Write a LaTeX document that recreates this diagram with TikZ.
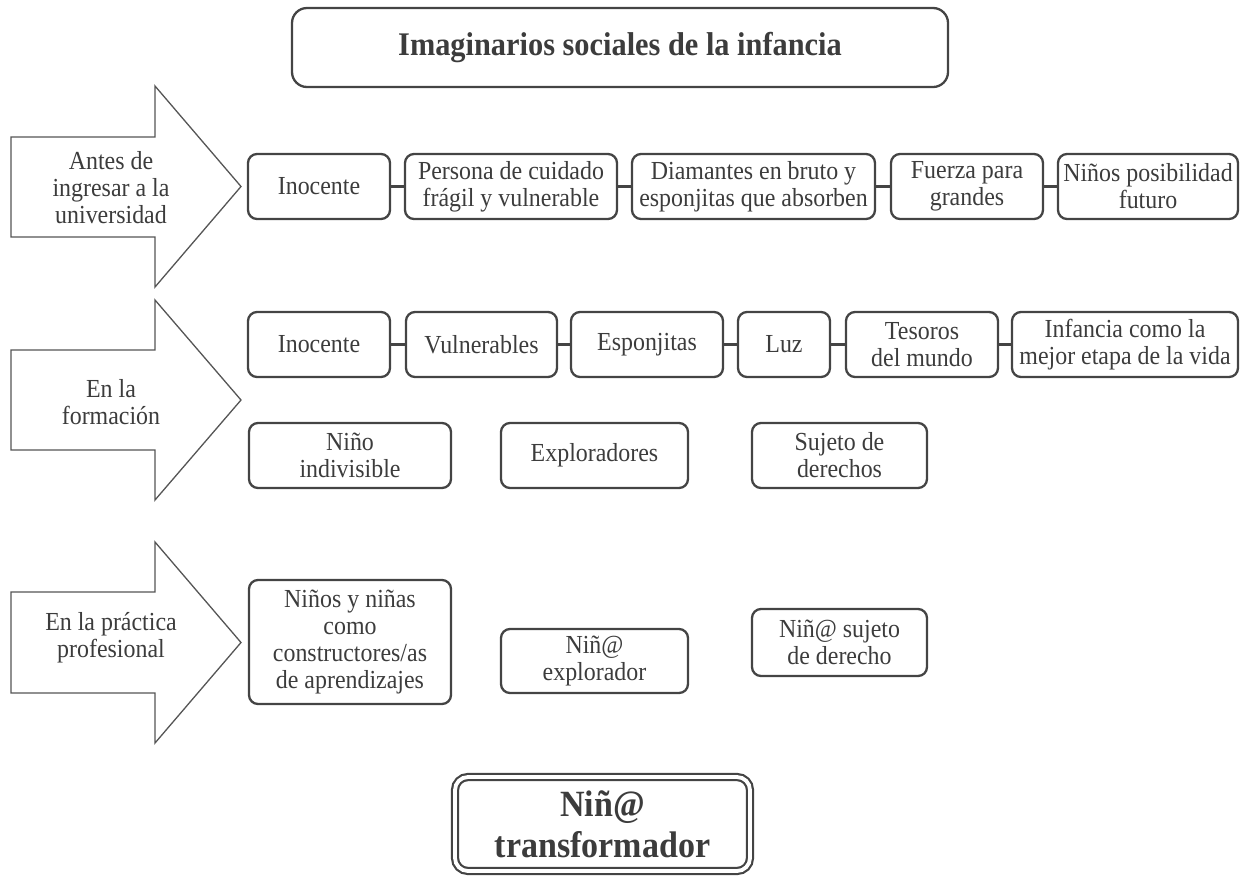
\documentclass[tikz,border=0pt]{standalone}
\usepackage{fontspec}
\setmainfont{Liberation Serif}[FakeStretch=0.92]
\definecolor{boxgray}{RGB}{68,68,68}
\definecolor{txtgray}{RGB}{60,60,60}
\definecolor{arrgray}{RGB}{85,85,85}
\begin{document}
\begin{tikzpicture}[x=1pt,y=-1pt,
  bx/.style={draw=boxgray,line width=2.3pt,rounded corners=9pt,align=center,inner sep=0pt,
    text=txtgray,font=\fontsize{26}{27}\selectfont},
  conn/.style={draw=boxgray,line width=2.6pt},
  arrshape/.style={draw=arrgray,line width=1.3pt,fill=white},
  arrtxt/.style={align=center,inner sep=0pt,text=txtgray,font=\fontsize{26}{27}\selectfont}]
\useasboundingbox (0,0) rectangle (1246,879);
% title
\node[bx,rounded corners=15pt,minimum width=656pt,minimum height=79pt,font=\fontsize{33}{38}\selectfont\bfseries] (title) at (620,47.5) {Imaginarios sociales de la infancia};
% arrows
\draw[arrshape] (11,137) -- (155,137) -- (155,86) -- (241,186.5) -- (155,287) -- (155,237) -- (11,237) -- cycle;
\node[arrtxt] (a1) at (111,188) {Antes de\\ingresar a la\\universidad};
\draw[arrshape] (11,350) -- (155,350) -- (155,300) -- (241,400) -- (155,500) -- (155,450) -- (11,450) -- cycle;
\node[arrtxt] (a2) at (111,402) {En la\\formación};
\draw[arrshape] (11,592) -- (155,592) -- (155,542) -- (241,642.5) -- (155,743) -- (155,693) -- (11,693) -- cycle;
\node[arrtxt] (a3) at (111,638) {En la práctica\\profesional};
% row 1
\node[bx,minimum width=142pt,minimum height=65pt] (r1a) at (319,186.5) {Inocente};
\node[bx,minimum width=212pt,minimum height=65pt] (r1b) at (511,186.5) {Persona de cuidado\\frágil y vulnerable};
\node[bx,minimum width=243pt,minimum height=65pt] (r1c) at (753.5,186.5) {Diamantes en bruto y\\esponjitas que absorben};
\node[bx,minimum width=152pt,minimum height=65pt] (r1d) at (967,186.5) {Fuerza para\\grandes};
\node[bx,minimum width=180pt,minimum height=65pt] (r1e) at (1148,186.5) {Niños posibilidad\\futuro};
\draw[conn] (r1a.east) -- (r1b.west);
\draw[conn] (r1b.east) -- (r1c.west);
\draw[conn] (r1c.east) -- (r1d.west);
\draw[conn] (r1d.east) -- (r1e.west);
% row 2
\node[bx,minimum width=142pt,minimum height=65pt] (r2a) at (319,344.5) {Inocente};
\node[bx,minimum width=151pt,minimum height=65pt] (r2b) at (481.5,344.5) {Vulnerables};
\node[bx,minimum width=152pt,minimum height=65pt] (r2c) at (647,344.5) {Esponjitas};
\node[bx,minimum width=92pt,minimum height=65pt] (r2d) at (784,344.5) {Luz};
\node[bx,minimum width=152pt,minimum height=65pt] (r2e) at (922,344.5) {Tesoros\\del mundo};
\node[bx,minimum width=226pt,minimum height=65pt] (r2f) at (1125,344.5) {Infancia como la\\mejor etapa de la vida};
\draw[conn] (r2a.east) -- (r2b.west);
\draw[conn] (r2b.east) -- (r2c.west);
\draw[conn] (r2c.east) -- (r2d.west);
\draw[conn] (r2d.east) -- (r2e.west);
\draw[conn] (r2e.east) -- (r2f.west);
% row 3
\node[bx,minimum width=202pt,minimum height=65pt] (r3a) at (350,455.5) {Niño\\indivisible};
\node[bx,minimum width=187pt,minimum height=65pt] (r3b) at (594.5,455.5) {Exploradores};
\node[bx,minimum width=175pt,minimum height=65pt] (r3c) at (839.5,455.5) {Sujeto de\\derechos};
% row 4
\node[bx,minimum width=202pt,minimum height=124pt] (r4a) at (350,642) {Niños y niñas\\como\\constructores/as\\de aprendizajes};
\node[bx,minimum width=187pt,minimum height=64pt] (r4b) at (594.5,661) {Niñ@\\explorador};
\node[bx,minimum width=175pt,minimum height=67pt] (r4c) at (839.5,642.5) {Niñ@ sujeto\\de derecho};
% final
\node[bx,double=white,double distance=3.8pt,line width=2.2pt,rounded corners=13pt,minimum width=295pt,minimum height=94pt,font=\fontsize{37}{41}\selectfont\bfseries] (fin) at (602.5,824) {Niñ@\\transformador};
\end{tikzpicture}
\end{document}
